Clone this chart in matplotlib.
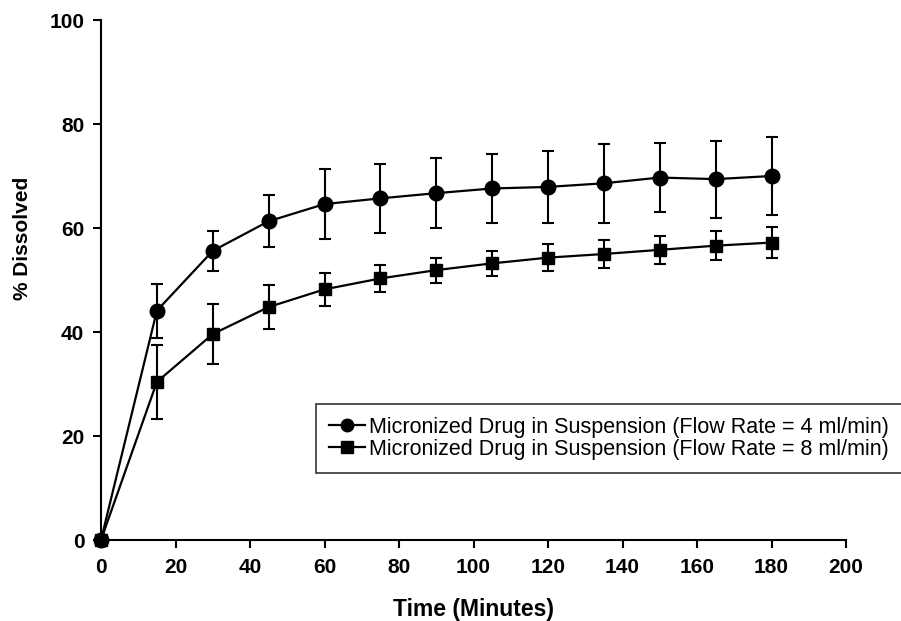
import matplotlib
matplotlib.use("Agg")
import matplotlib.pyplot as plt

time_min = [0, 15, 30, 45, 60, 75, 90, 105, 120, 135, 150, 165, 180]
flow4_mean = [0, 44.1, 55.6, 61.3, 64.6, 65.7, 66.7, 67.6, 67.9, 68.6, 69.7, 69.4, 70.0]
flow4_err = [0, 5.2, 3.8, 5.0, 6.7, 6.7, 6.7, 6.7, 7.0, 7.6, 6.6, 7.4, 7.5]
flow8_mean = [0, 30.4, 39.6, 44.8, 48.2, 50.3, 51.9, 53.2, 54.3, 55.0, 55.8, 56.6, 57.2]
flow8_err = [0, 7.1, 5.8, 4.3, 3.2, 2.6, 2.4, 2.4, 2.6, 2.7, 2.7, 2.8, 2.9]

label4 = "Micronized Drug in Suspension (Flow Rate = 4 ml/min)"
label8 = "Micronized Drug in Suspension (Flow Rate = 8 ml/min)"
xticks = [0, 20, 40, 60, 80, 100, 120, 140, 160, 180, 200]
yticks = [0, 20, 40, 60, 80, 100]

plt.rcParams['font.family'] = ['Liberation Sans', 'DejaVu Sans']

fig = plt.figure(figsize=(9.01, 6.21), dpi=100)
ax = fig.add_axes([101/901, 81/621, 745/901, 520/621])

common = dict(color='black', lw=1.6, capsize=4.5, elinewidth=1.5, capthick=1.5, clip_on=False)
ax.errorbar(time_min, flow4_mean, yerr=flow4_err, fmt='-o', ms=10.5, label=label4, **common)
ax.errorbar(time_min, flow8_mean, yerr=flow8_err, fmt='-s', ms=8.5, label=label8, **common)

ax.set_xlim(0, 200)
ax.set_ylim(0, 100)
ax.set_xticks(xticks)
ax.set_yticks(yticks)
ax.spines['top'].set_visible(False)
ax.spines['right'].set_visible(False)
for s in ['left', 'bottom']:
    ax.spines[s].set_linewidth(1.5)
ax.tick_params(direction='out', length=6, width=1.5, labelsize=15)
ax.tick_params(axis='x', pad=7)
ax.tick_params(axis='y', pad=6)
for lab in ax.get_xticklabels() + ax.get_yticklabels():
    lab.set_fontweight('bold')

ax.set_xlabel("Time (Minutes)", fontsize=16.5, fontweight='bold')
ax.set_ylabel("% Dissolved", fontsize=15, fontweight='bold')
ax.xaxis.set_label_coords(0.5, -0.112)
ax.yaxis.set_label_coords(-0.092, 0.58)

handles, labels = ax.get_legend_handles_labels()
handles = [h[0] for h in handles]
leg = ax.legend(handles, labels, loc='upper left', bbox_to_anchor=(0.289, 0.262),
                fontsize=15.5, frameon=True, fancybox=False, edgecolor='black',
                handlelength=1.65, handletextpad=0.2, borderpad=0.6, labelspacing=0.05,
                borderaxespad=0)
leg.get_frame().set_linewidth(1.2)
for h in leg.legend_handles:
    h.set_markersize(9)

fig.savefig("out.png", dpi=100)
